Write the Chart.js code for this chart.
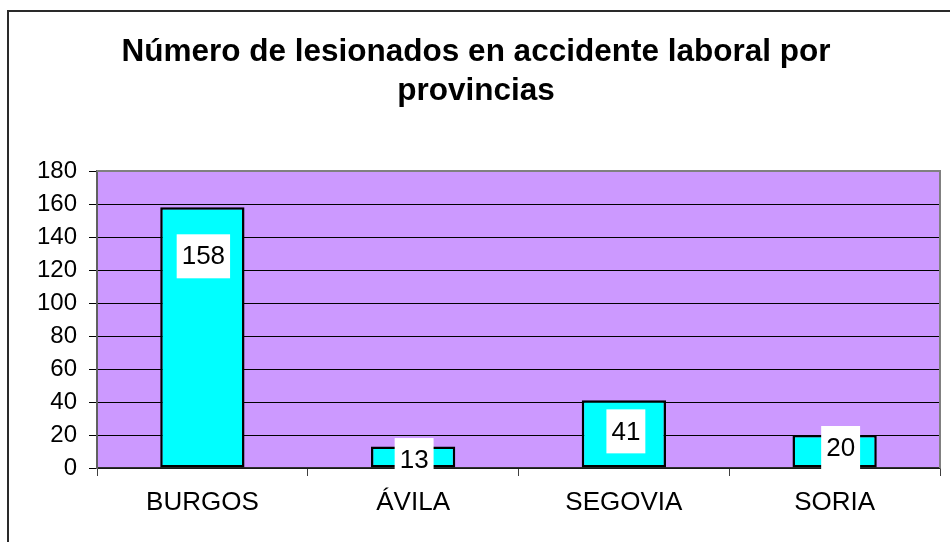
<!DOCTYPE html>
<html>
<head>
<meta charset="utf-8">
<script src="https://cdn.jsdelivr.net/npm/chart.js@4/dist/chart.umd.min.js"></script>
<style>
html,body{margin:0;padding:0;background:#fff;}
#wrap{width:950px;height:542px;position:relative;}
</style>
</head>
<body>
<div id="wrap"><canvas id="c"></canvas></div>
<script>
const categories = ['BURGOS', 'ÁVILA', 'SEGOVIA', 'SORIA'];
const values = [158, 13, 41, 20];
const yTicks = [0, 20, 40, 60, 80, 100, 120, 140, 160, 180];
const titleLines = ['Número de lesionados en accidente laboral por', 'provincias'];

const FONT = '"Liberation Sans", Arial, sans-serif';

const framePlugin = {
  id: 'frame',
  beforeDraw(chart) {
    const ctx = chart.ctx, a = chart.chartArea;
    ctx.save();
    ctx.fillStyle = '#fff';
    ctx.fillRect(0, 0, chart.width, chart.height);
    // outer frame
    ctx.strokeStyle = '#2a2a2a';
    ctx.lineWidth = 2;
    ctx.beginPath();
    ctx.moveTo(8, chart.height);
    ctx.lineTo(8, 11);
    ctx.lineTo(chart.width, 11);
    ctx.stroke();
    // plot background
    ctx.fillStyle = '#CC99FF';
    ctx.fillRect(a.left, a.top, a.right - a.left, a.bottom - a.top);
    // title
    ctx.fillStyle = '#000';
    ctx.font = 'bold 31.5px ' + FONT;
    ctx.textAlign = 'center';
    ctx.textBaseline = 'alphabetic';
    ctx.fillText(titleLines[0], 476, 61);
    ctx.fillText(titleLines[1], 476, 100);
    ctx.restore();
  },
  afterDatasetsDraw(chart, args, opts) {
    const ctx = chart.ctx, a = chart.chartArea;
    ctx.save();
    ctx.strokeStyle = '#808080';
    ctx.lineWidth = 2;
    ctx.beginPath();
    ctx.moveTo(a.left, a.top);
    ctx.lineTo(a.right, a.top);
    ctx.lineTo(a.right, a.bottom);
    ctx.stroke();
    // data labels
    const meta = chart.getDatasetMeta(0);
    ctx.font = '26px ' + FONT;
    ctx.textAlign = 'center';
    ctx.textBaseline = 'middle';
    meta.data.forEach((bar, i) => {
      const txt = String(chart.data.datasets[0].data[i]);
      const w = ctx.measureText(txt).width + 10;
      const h = 44;
      const cx = bar.x + opts.dx[i];
      const cy = bar.y + opts.dy[i];
      ctx.fillStyle = '#fff';
      ctx.fillRect(cx - w / 2, cy - h / 2, w, h);
      ctx.fillStyle = '#000';
      ctx.fillText(txt, cx, cy + 1);
    });
    ctx.restore();
  }
};

new Chart(document.getElementById('c'), {
  type: 'bar',
  data: {
    labels: categories,
    datasets: [{
      data: values,
      backgroundColor: '#00FFFF',
      borderColor: '#000',
      borderWidth: 2.5,
      borderSkipped: false,
      barPercentage: 0.4,
      categoryPercentage: 1.0
    }]
  },
  options: {
    responsive: true,
    maintainAspectRatio: false,
    animation: false,
    layout: { padding: { left: 0, top: 171, right: 10, bottom: 0 } },
    plugins: {
      legend: { display: false },
      title: { display: false },
      tooltip: { enabled: false },
      frame: { dx: [1, 1, 2, 6], dy: [49, 13.5, 31, 13] }
    },
    scales: {
      x: {
        afterFit(s) { s.height = 74; },
        grid: { display: true, offset: true, drawOnChartArea: false, drawTicks: true, tickLength: 8, color: '#404040', lineWidth: 1 },
        border: { display: true, color: '#303030', width: 1.5 },
        ticks: { color: '#000', font: { family: FONT, size: 26 }, padding: 11, maxRotation: 0 }
      },
      y: {
        min: 0, max: 180,
        afterFit(s) { s.width = 97; },
        afterBuildTicks(s) { s.ticks = yTicks.map(v => ({ value: v })); },
        grid: { color: '#000', lineWidth: 1, tickLength: 8, drawTicks: true },
        border: { display: true, color: '#606060', width: 2 },
        ticks: { color: '#000', font: { family: FONT, size: 24 }, padding: 12, stepSize: 20 }
      }
    }
  },
  plugins: [framePlugin]
});
</script>
</body>
</html>
